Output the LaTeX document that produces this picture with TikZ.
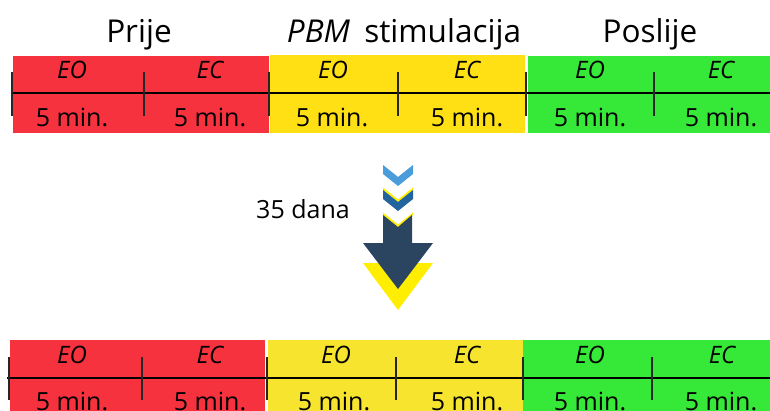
\documentclass[tikz,border=0pt]{standalone}
\usepackage{fontspec}
\setmainfont{Open Sans}
\definecolor{cred}{HTML}{F6323E}
\definecolor{cyel}{HTML}{FFE014}
\definecolor{cyelb}{HTML}{F6E42E}
\definecolor{cgrn}{HTML}{36E837}
\definecolor{lblue}{HTML}{4B9CDB}
\definecolor{mblue}{HTML}{23649F}
\definecolor{dblue}{HTML}{2B4561}
\definecolor{ayel}{HTML}{FFEE00}
\tikzset{
  block/.style={rectangle, inner sep=0pt, draw=none},
  title/.style={anchor=base, inner sep=0pt, font=\fontsize{31.5}{36}\selectfont},
  eolab/.style={anchor=base, inner sep=0pt, font=\fontsize{24}{28}\selectfont\itshape},
  minlab/.style={anchor=base, inner sep=0pt, font=\fontsize{25}{30}\selectfont},
  axis/.style={line width=1.3pt, black},
  tick/.style={line width=1.3pt, black!85}
}
\begin{document}
\begin{tikzpicture}[x=1pt,y=-1pt]
\useasboundingbox (0,0) rectangle (770,410);
\clip (0,0) rectangle (770,410);
% titles
\node[title] (t1) at (139,42) {Prije};
\node[title] (t2) at (404,42) {\textit{PBM}\hspace{0.45em}stimulacija};
\node[title] (t3) at (650,42) {Poslije};
% top blocks
\node[block, fill=cred, minimum width=256pt, minimum height=77pt] (r1) at (141,94.5) {};
\node[block, fill=cyel, minimum width=255pt, minimum height=78pt] (y1) at (397.5,94) {};
\node[block, fill=cgrn, minimum width=244pt, minimum height=77pt] (g1) at (650,94.5) {};
% top axis
\coordinate (a1) at (12,93);
\coordinate (a2) at (770,93);
\draw[axis] (a1) -- (a2);
\foreach \x in {12,144,269,398,526,654} \draw[tick] (\x,72) -- (\x,116);
% top labels
\foreach \x/\l in {72/EO,210/EC,333/EO,467/EC,590/EO,721/EC}
  \node[eolab] at (\x,78) {\l};
\foreach \x in {72,210,332,467,590,721}
  \node[minlab] at (\x,126) {5 min.};
% bottom blocks
\node[block, fill=cred, minimum width=255pt, minimum height=80pt] (r2) at (137.5,380) {};
\node[block, fill=cyelb, minimum width=255pt, minimum height=80pt] (y2) at (395.5,380) {};
\node[block, fill=cgrn, minimum width=247pt, minimum height=80pt] (g2) at (646.5,380) {};
\coordinate (b1) at (7,378);
\coordinate (b2) at (770,378);
\draw[axis] (b1) -- (b2);
\foreach \x in {9,142,267,396,523,652} \draw[tick] (\x,357) -- (\x,400);
\foreach \x/\l in {72/EO,210/EC,336/EO,467/EC,590/EO,722/EC}
  \node[eolab] at (\x,363) {\l};
\foreach \x in {72,210,334,467,590,721}
  \node[minlab] at (\x,410) {5 min.};
% 35 dana
\node[anchor=base, inner sep=0pt, font=\fontsize{25}{30}\selectfont] (d) at (303,218) {35 dana};
% arrow
% yellow shadow of big arrow head
\fill[ayel] (363,263) -- (433,263) -- (398,310) -- cycle;
% yellow edges
\fill[ayel] (383,187.5) -- (398,199.5) -- (413,187.5) -- (413,190) -- (398,202) -- (383,190) -- cycle;
\fill[ayel] (383,212.5) -- (398,224.5) -- (413,212.5) -- (413,215) -- (398,227) -- (383,215) -- cycle;
% chevron 1
\fill[lblue] (383,165) -- (398,177) -- (413,165) -- (413,174) -- (398,186) -- (383,174) -- cycle;
% chevron 2
\fill[mblue] (383,190) -- (398,202) -- (413,190) -- (413,199) -- (398,211) -- (383,199) -- cycle;
% big arrow
\fill[dblue] (383,215) -- (398,227) -- (412,215) -- (412,243) -- (433,243) -- (398,289) -- (363,243) -- (383,243) -- cycle;
\end{tikzpicture}
\end{document}
